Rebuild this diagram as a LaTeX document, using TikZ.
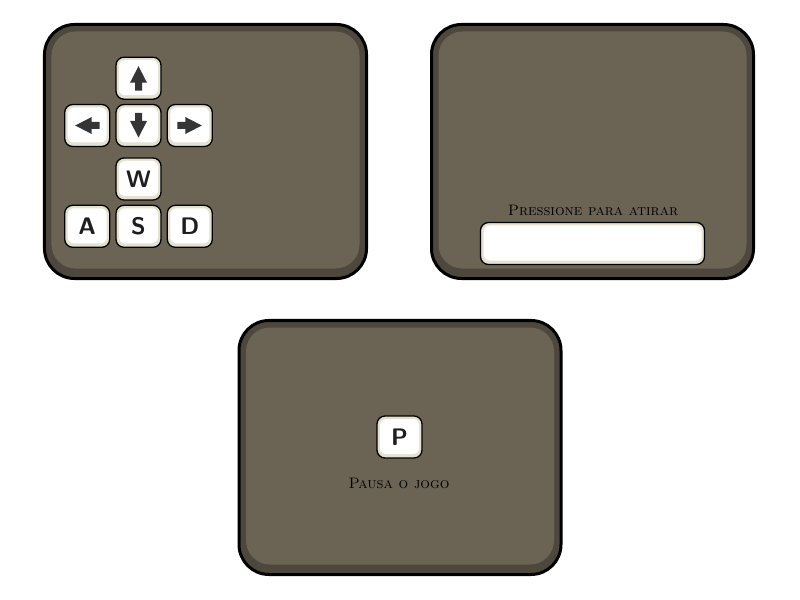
\documentclass[tikz,border=0pt]{standalone}
\usetikzlibrary{positioning}
\definecolor{panelfill}{HTML}{6B6455}
\definecolor{panelrim}{HTML}{4E473D}
\definecolor{keyrim}{HTML}{E4E2CF}
\definecolor{inkdark}{HTML}{1E1E1E}
\begin{document}
\begin{tikzpicture}[x=1bp,y=-1bp,node distance={4bp and 5bp}]
  % Define styles for nodes
  \tikzset{
    panel/.style={draw=black, line width=3bp, fill=panelrim, rounded corners=30bp,
      minimum width=322bp, minimum height=254bp, inner sep=0pt,
      path picture={\fill[panelfill, rounded corners=24bp]
        ([shift={(7,7)}]path picture bounding box.north west) rectangle
        ([shift={(-7,-10)}]path picture bounding box.south east);}},
    key/.style={draw=black, line width=1.3bp, fill=keyrim, rounded corners=8bp,
      minimum width=45bp, minimum height=42bp, inner sep=0pt, text=inkdark,
      font=\fontsize{24}{24}\selectfont\sffamily\bfseries,
      path picture={\fill[white, rounded corners=6bp]
        ([shift={(3,3)}]path picture bounding box.north west) rectangle
        ([shift={(-3,-4)}]path picture bounding box.south east);}},
    hint/.style={text=black, inner sep=1pt, font=\fontsize{15.2}{15.2}\selectfont\scshape},
    glyph/.style={fill=inkdark!90!white}
  }
  \useasboundingbox (0,0) rectangle (800,600);

  % Panels
  \node[panel] (move) at (205.5,151.5) {};
  \node[panel] (shoot) at (592.5,151.5) {};
  \node[panel] (pause) at (400,447.5) {};

  % Arrow keys
  \node[key] (down) at (138.5,125.5) {};
  \node[key, above=of down] (up) {};
  \node[key, left=of down] (left) {};
  \node[key, right=of down] (right) {};
  \fill[glyph, shift={(right.center)}] (-12.5,-3.5) -- (-4.5,-3.5) -- (-4.5,-8.5) -- (12,0) -- (-4.5,8.5) -- (-4.5,3.5) -- (-12.5,3.5) -- cycle;
  \fill[glyph, shift={(left.center)}, rotate=180] (-12.5,-3.5) -- (-4.5,-3.5) -- (-4.5,-8.5) -- (12,0) -- (-4.5,8.5) -- (-4.5,3.5) -- (-12.5,3.5) -- cycle;
  \fill[glyph, shift={(up.center)}, rotate=90] (-12.5,-3.5) -- (-4.5,-3.5) -- (-4.5,-8.5) -- (12,0) -- (-4.5,8.5) -- (-4.5,3.5) -- (-12.5,3.5) -- cycle;
  \fill[glyph, shift={(down.center)}, rotate=-90] (-12.5,-3.5) -- (-4.5,-3.5) -- (-4.5,-8.5) -- (12,0) -- (-4.5,8.5) -- (-4.5,3.5) -- (-12.5,3.5) -- cycle;

  % Letter keys
  \node[key] (w) at (138.5,179) {W};
  \node[key, below=of w] (s) {S};
  \node[key, left=of s] (a) {A};
  \node[key, right=of s] (d) {D};

  % Fire bar
  \node[hint] (firetext) at (593,210) {Pressione para atirar};
  \node[key, minimum width=224bp] (fire) at (592.5,243.5) {};

  % Pause key
  \node[key] (p) at (399.5,437) {P};
  \node[hint] (pausetext) at (399,483) {Pausa o jogo};
\end{tikzpicture}
\end{document}
